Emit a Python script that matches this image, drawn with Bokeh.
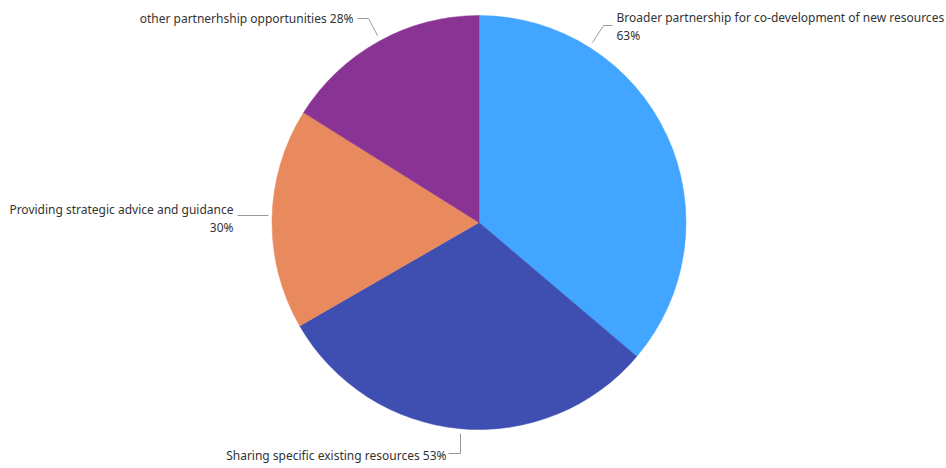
import math
from bokeh.plotting import figure
from bokeh.models import Range1d, ColumnDataSource
from bokeh.core.properties import value
from bokeh.embed import file_html
from bokeh.resources import INLINE

categories = [
    "Broader partnership for co-development of new resources",
    "Sharing specific existing resources",
    "Providing strategic advice and guidance",
    "other partnerhship opportunities",
]
values = [63, 53, 30, 28]
colors = ["#42A5FF", "#3F4FB1", "#E98A5E", "#893394"]

W, H = 946, 468
CX, CY = 478.5, H - 222
R = 207

p = figure(width=W, height=H, output_backend="svg", toolbar_location=None,
           x_range=Range1d(0, W), y_range=Range1d(0, H), min_border=0)
p.axis.visible = False
p.grid.visible = False
p.outline_line_color = None
p.background_fill_color = "white"

total = sum(values)
starts, ends = [], []
cum = 0.0
for v in values:
    a0 = math.pi / 2 - cum / total * 2 * math.pi
    cum += v
    a1 = math.pi / 2 - cum / total * 2 * math.pi
    starts.append(a0)
    ends.append(a1)

src = ColumnDataSource(dict(start=starts, end=ends, color=colors,
                            x=[CX] * len(values), y=[CY] * len(values)))
p.wedge(x="x", y="y", radius=R, radius_units="screen", start_angle="start",
        end_angle="end", direction="clock", fill_color="color",
        line_color="color", line_width=0.5, source=src)

# leader lines (screen offsets relative to center, y down)
def pt(dx, dy):
    return CX + dx, CY - dy

leaders = [
    [(592, 42), (603, 25), (612, 25)],
    [(460, 433), (460, 453), (448, 453)],
    [(268, 215), (237, 215)],
    [(377, 35), (368, 18), (357, 18)],
]
for pts in leaders:
    xs = [x for x, y in pts]
    ys = [H - y for x, y in pts]
    p.line(xs, ys, line_color="#999999", line_width=1)

font = value("Noto Sans")
tc = "#333333"
fs = "12px"
labels = [
    (616, 17, categories[0], "left"),
    (616, 35, f"{values[0]}%", "left"),
    (446, 455, f"{categories[1]} {values[1]}%", "right"),
    (233, 209, categories[2], "right"),
    (233, 227, f"{values[2]}%", "right"),
    (353, 18, f"{categories[3]} {values[3]}%", "right"),
]
for x, y, t, al in labels:
    p.text(x=[x], y=[H - y], text=[t], text_font=font, text_font_size=fs,
           text_color=tc, text_align=al, text_baseline="middle")

open("out.html", "w").write(file_html(p, INLINE))
